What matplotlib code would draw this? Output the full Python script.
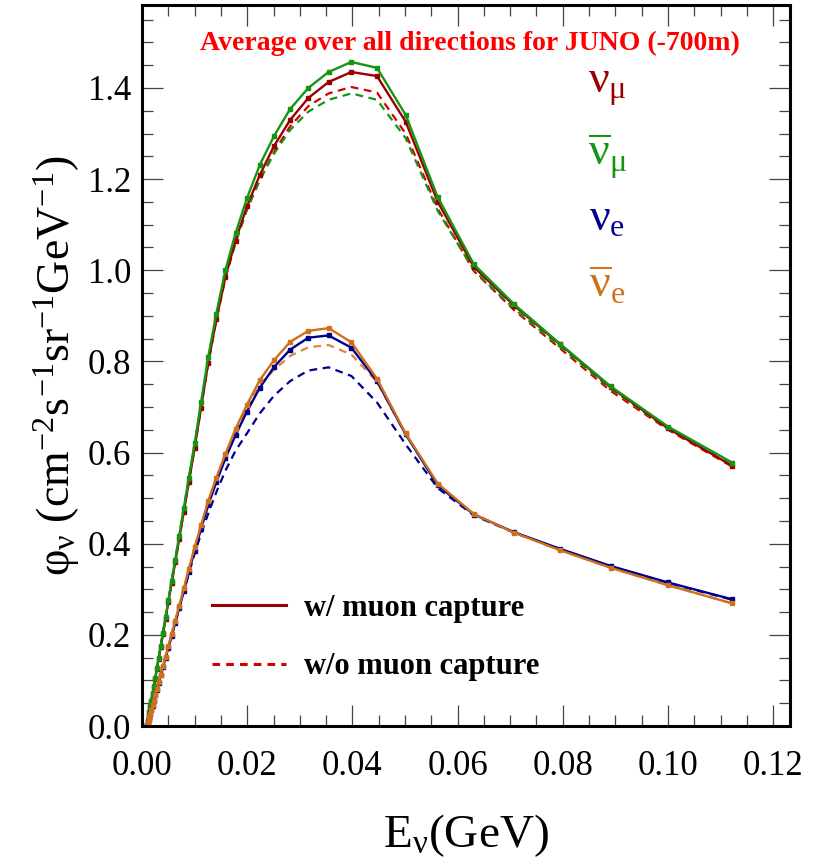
import matplotlib
matplotlib.use("Agg")
import matplotlib.pyplot as plt
from matplotlib.lines import Line2D
from matplotlib.ticker import MultipleLocator

plt.rcParams["font.family"] = ["Liberation Serif", "DejaVu Serif"]
plt.rcParams["mathtext.fontset"] = "custom"
plt.rcParams["mathtext.rm"] = "Liberation Serif"
plt.rcParams["mathtext.it"] = "Liberation Serif"
plt.rcParams["mathtext.bf"] = "Liberation Serif:bold"

# neutrino energy grid (GeV)
energy = [0.00100, 0.00112, 0.00126, 0.00141, 0.00158, 0.00178, 0.00200, 0.00224,
          0.00251, 0.00282, 0.00316, 0.00355, 0.00398, 0.00447, 0.00501, 0.00562,
          0.00631, 0.00708, 0.00794, 0.00891, 0.01000, 0.01122, 0.01259, 0.01413,
          0.01585, 0.01778, 0.01995, 0.02239, 0.02512, 0.02818, 0.03162, 0.03548,
          0.03981, 0.04467, 0.05012, 0.05623, 0.06310, 0.07079, 0.07943, 0.08913,
          0.10000, 0.11220]

# flux, w/ muon capture
numu_w = [0.003, 0.011, 0.020, 0.030, 0.042, 0.055, 0.070, 0.086, 0.104, 0.125,
          0.148, 0.173, 0.202, 0.235, 0.272, 0.313, 0.359, 0.411, 0.470, 0.536,
          0.610, 0.698, 0.797, 0.892, 0.985, 1.065, 1.140, 1.209, 1.273, 1.330,
          1.378, 1.413, 1.435, 1.426, 1.326, 1.150, 1.007, 0.922, 0.838, 0.743,
          0.653, 0.571]
numubar_w = [0.003, 0.011, 0.021, 0.031, 0.043, 0.056, 0.071, 0.088, 0.106, 0.127,
             0.150, 0.176, 0.205, 0.239, 0.276, 0.318, 0.365, 0.418, 0.478, 0.545,
             0.620, 0.710, 0.810, 0.905, 1.000, 1.081, 1.158, 1.231, 1.295, 1.354,
             1.400, 1.435, 1.457, 1.444, 1.341, 1.160, 1.013, 0.925, 0.839, 0.745,
             0.657, 0.578]
nue_w = [0.002, 0.007, 0.013, 0.019, 0.026, 0.035, 0.045, 0.055, 0.067, 0.080,
         0.095, 0.111, 0.129, 0.149, 0.172, 0.197, 0.226, 0.259, 0.296, 0.338,
         0.385, 0.432, 0.485, 0.535, 0.587, 0.638, 0.690, 0.742, 0.788, 0.826,
         0.852, 0.857, 0.830, 0.757, 0.640, 0.528, 0.464, 0.425, 0.389, 0.351,
         0.315, 0.278]
nuebar_w = [0.002, 0.007, 0.013, 0.020, 0.027, 0.036, 0.046, 0.056, 0.068, 0.082,
            0.097, 0.113, 0.132, 0.152, 0.175, 0.201, 0.231, 0.264, 0.302, 0.345,
            0.392, 0.440, 0.494, 0.545, 0.597, 0.652, 0.705, 0.759, 0.803, 0.843,
            0.867, 0.873, 0.842, 0.762, 0.642, 0.532, 0.465, 0.424, 0.386, 0.347,
            0.309, 0.269]

# flux, w/o muon capture
numu_wo = [0.003, 0.011, 0.020, 0.030, 0.042, 0.055, 0.070, 0.086, 0.104, 0.125,
           0.148, 0.173, 0.202, 0.235, 0.272, 0.313, 0.359, 0.411, 0.470, 0.536,
           0.610, 0.698, 0.796, 0.890, 0.982, 1.060, 1.133, 1.198, 1.260, 1.316,
           1.360, 1.388, 1.402, 1.390, 1.300, 1.135, 0.998, 0.912, 0.829, 0.735,
           0.650, 0.569]
numubar_wo = [0.003, 0.011, 0.021, 0.031, 0.043, 0.056, 0.071, 0.088, 0.106, 0.127,
              0.150, 0.176, 0.205, 0.239, 0.276, 0.318, 0.365, 0.418, 0.478, 0.545,
              0.618, 0.705, 0.800, 0.895, 0.988, 1.063, 1.134, 1.198, 1.256, 1.308,
              1.348, 1.374, 1.388, 1.374, 1.290, 1.130, 1.000, 0.915, 0.833, 0.740,
              0.652, 0.572]
nue_wo = [0.002, 0.007, 0.013, 0.019, 0.026, 0.035, 0.045, 0.055, 0.067, 0.080,
          0.094, 0.110, 0.128, 0.148, 0.171, 0.197, 0.226, 0.258, 0.294, 0.334,
          0.378, 0.422, 0.466, 0.513, 0.560, 0.604, 0.642, 0.686, 0.725, 0.757,
          0.780, 0.787, 0.768, 0.710, 0.618, 0.522, 0.462, 0.424, 0.388, 0.350,
          0.314, 0.277]
nuebar_wo = [0.002, 0.007, 0.013, 0.020, 0.027, 0.036, 0.046, 0.056, 0.068, 0.082,
             0.097, 0.113, 0.132, 0.152, 0.175, 0.201, 0.231, 0.264, 0.302, 0.345,
             0.390, 0.438, 0.491, 0.542, 0.593, 0.646, 0.698, 0.748, 0.782, 0.812,
             0.831, 0.836, 0.815, 0.755, 0.640, 0.530, 0.465, 0.424, 0.386, 0.347,
             0.309, 0.269]

species = [r"$ν_μ$", r"$\overline{ν}_μ$", r"$ν_e$", r"$\overline{ν}_e$"]
solid_colors = ["#990000", "#149614", "#00008f", "#d0701a"]
dash_colors = ["#d40000", "#149614", "#00008f", "#e0843a"]

fig = plt.figure(figsize=(8.18, 8.59), dpi=100)
ax = fig.add_axes([0.1736, 0.1548, 0.7922, 0.8394])

w_series = [numu_w, numubar_w, nue_w, nuebar_w]
wo_series = [numu_wo, numubar_wo, nue_wo, nuebar_wo]
for ys, c in zip(wo_series, dash_colors):
    ax.plot(energy, ys, color=c, lw=1.6, ls=(0, (3.5, 2.5)))
for ys, c in zip(w_series, solid_colors):
    ax.plot(energy, ys, color=c, lw=1.7, marker="s", ms=2.5)

ax.set_xlim(0, 0.1232)
ax.set_ylim(0, 1.582)
ax.xaxis.set_major_locator(MultipleLocator(0.02))
ax.xaxis.set_minor_locator(MultipleLocator(0.005))
ax.yaxis.set_major_locator(MultipleLocator(0.2))
ax.yaxis.set_minor_locator(MultipleLocator(0.05))
ax.xaxis.set_major_formatter(lambda v, p: f"{v:.2f}")
ax.yaxis.set_major_formatter(lambda v, p: f"{v:.1f}")
ax.tick_params(which="both", direction="in", top=True, right=True,
               color="#444444", width=0.9, labelsize=25)
ax.tick_params(which="major", length=15, pad=8)
ax.tick_params(axis="x", which="major", pad=17)
ax.tick_params(which="minor", length=8)
for s in ax.spines.values():
    s.set_linewidth(2.2)

ax.set_xlabel(r"E$_ν$(GeV)", fontsize=34, labelpad=21)
ax.set_ylabel(r"φ$_ν$ (cm$^{-2}$s$^{-1}$sr$^{-1}$GeV$^{-1}$)", fontsize=33,
              labelpad=4)

ax.text(0.506, 0.946, "Average over all directions for JUNO (-700m)",
        transform=ax.transAxes, ha="center", va="center", color="#ff0000",
        fontsize=20, fontweight="bold")
for lab, c, y in zip(species, solid_colors, [0.886, 0.790, 0.703, 0.610]):
    ax.text(0.718, y, lab, transform=ax.transAxes, ha="center", va="center",
            color=c, fontsize=33)

handles = [Line2D([], [], color="#990000", lw=2.2),
           Line2D([], [], color="#d40000", lw=2.2, ls=(0, (2.5, 2)))]
ax.legend(handles, ["w/ muon capture", "w/o muon capture"],
          loc="lower left", bbox_to_anchor=(0.066, 0.024), frameon=False,
          prop={"weight": "bold", "size": 22}, handlelength=2.4,
          labelspacing=0.95, handletextpad=0.6)

fig.savefig("out.png", dpi=100)
